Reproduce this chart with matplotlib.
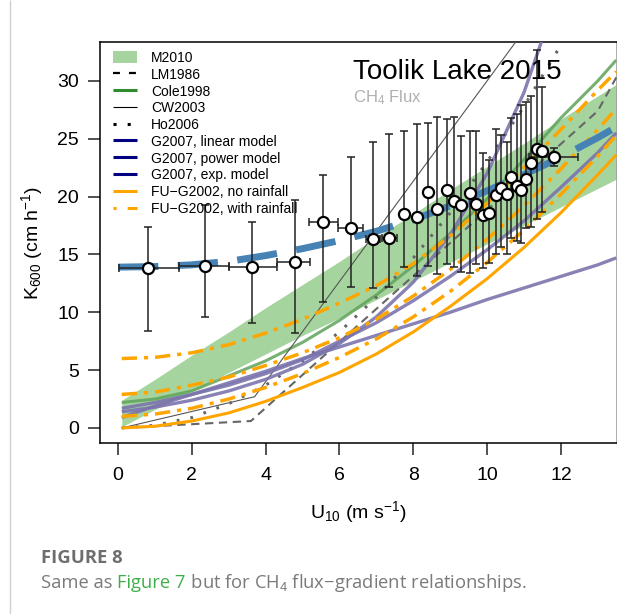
import matplotlib
matplotlib.use("Agg")
import matplotlib.pyplot as plt
from matplotlib.lines import Line2D
from matplotlib.patches import Patch

plt.rcParams["font.family"] = ["Liberation Sans", "DejaVu Sans"]
plt.rcParams["mathtext.fontset"] = "custom"
plt.rcParams["mathtext.rm"] = "Liberation Sans"
plt.rcParams["mathtext.it"] = "Liberation Sans:italic"
plt.rcParams["lines.scale_dashes"] = False
plt.rcParams["lines.dash_capstyle"] = "butt"
plt.rcParams["lines.solid_capstyle"] = "butt"

# binned observations (Toolik Lake 2015, CH4 flux)
u10 = [0.81, 2.36, 3.63, 4.80, 5.56, 6.30, 6.91, 7.35, 7.75, 8.10, 8.40, 8.65, 8.90, 9.10, 9.30,
       9.55, 9.70, 9.90, 10.06, 10.24, 10.38, 10.53, 10.65, 10.80, 10.92, 11.06, 11.20, 11.35, 11.50, 11.80]
k600 = [13.8, 14.0, 13.9, 14.35, 17.8, 17.3, 16.3, 16.4, 18.5, 18.2, 20.4, 18.9, 20.6, 19.6, 19.3,
        20.3, 19.4, 18.4, 18.6, 20.1, 20.7, 20.2, 21.7, 20.9, 20.6, 21.5, 22.9, 24.1, 23.9, 23.4]
k_lo = [8.4, 9.6, 9.1, 8.2, 10.9, 12.2, 12.1, 12.2, 13.9, 13.1, 14.0, 13.3, 14.2, 13.9, 13.5,
        13.4, 14.2, 13.8, 14.3, 15.0, 15.6, 15.0, 16.4, 16.2, 16.0, 17.3, 17.4, 18.1, 18.7, 22.6]
k_hi = [17.4, 19.3, 17.8, 19.7, 21.9, 23.4, 24.7, 25.4, 25.7, 26.3, 26.4, 26.9, 26.7, 26.9, 25.2,
        25.7, 25.7, 23.8, 23.2, 25.8, 25.3, 24.7, 26.8, 27.1, 27.9, 28.2, 28.7, 32.7, 29.5, 24.2]
# horizontal error bars only exist for the sparse low-wind bins and the last bin
ux_idx = [0, 1, 2, 3, 4, 5, 6, 7, 29]
ux_lo = [0.03, 1.65, 3.00, 4.30, 5.18, 5.96, 6.72, 7.15, 11.13]
ux_hi = [1.65, 3.00, 4.30, 5.20, 5.96, 6.63, 7.10, 7.56, 12.47]

# fitted relationship (thick dashed blue)
fit_u = [0, 1, 2, 3, 4, 5, 6, 7, 8, 9, 10, 11, 12, 13, 13.5]
fit_k = [13.9, 13.95, 14.1, 14.4, 14.9, 15.5, 16.2, 17.0, 18.0, 19.2, 20.5, 21.9, 23.4, 25.1, 26.0]

# literature models, read on a common wind grid
u_grid = [0.1, 1, 2, 3, 4, 5, 6, 7, 8, 9, 10, 11, 12, 13, 13.5]
m2010_lo = [0.1, 1.6, 3.2, 4.8, 6.4, 8.0, 9.5, 11.1, 12.7, 14.3, 15.9, 17.5, 19.1, 20.7, 21.5]
m2010_hi = [2.4, 4.2, 6.3, 8.3, 10.4, 12.4, 14.4, 16.5, 18.5, 20.6, 22.6, 24.6, 26.7, 28.7, 29.7]
cole1998 = [2.2, 2.5, 3.2, 4.5, 5.8, 7.4, 9.3, 11.5, 14.0, 16.8, 19.8, 23.2, 26.8, 30.0, 31.8]
ho2006 = [0.0, 0.23, 0.9, 2.1, 3.7, 5.8, 8.3, 11.3, 14.7, 18.6, 23.0, 27.8, 33.1, 38.9, 41.9]
g2007_lin = [0.9, 1.9, 2.9, 3.9, 4.9, 6.0, 7.0, 8.0, 9.0, 10.0, 11.1, 12.1, 13.1, 14.1, 14.7]
g2007_pow = [1.7, 2.2, 2.9, 3.7, 4.7, 5.9, 7.5, 9.1, 11.0, 13.1, 15.4, 17.9, 20.8, 23.8, 25.5]
g2007_exp = [1.4, 1.8, 2.4, 3.2, 4.2, 5.5, 7.3, 9.6, 12.6, 16.7, 22.0, 29.0, 38.3, 50.5, 58.0]
fu_norain = [0.0, 0.15, 0.6, 1.3, 2.3, 3.5, 4.8, 6.4, 8.3, 10.5, 12.9, 15.6, 18.6, 21.9, 23.6]
fu_rain_a = [6.0, 6.1, 6.5, 7.2, 8.2, 9.4, 10.8, 12.3, 14.2, 16.6, 19.4, 22.5, 25.8, 29.2, 30.8]
fu_rain_b = [2.9, 3.1, 3.7, 4.4, 5.4, 6.5, 7.8, 9.4, 11.4, 13.7, 16.3, 19.2, 22.4, 25.8, 27.6]
fu_rain_c = [1.0, 1.2, 1.7, 2.5, 3.5, 4.7, 6.1, 7.7, 9.6, 11.8, 14.3, 17.1, 20.2, 23.5, 25.3]

# piecewise-linear models
lm_u = [0.1, 3.6, 13.0, 13.5]
lm_k = [0.0, 0.6, 27.4, 30.3]
cw_u = [0.1, 3.7, 11.5]
cw_k = [0.0, 2.7, 36.5]

band_col = "#a6d49e"
purple = "#7b74ad"
orange = "#ffa500"

fig = plt.figure(figsize=(6.17, 6.14), dpi=100)
ax = fig.add_axes([100 / 617, 1 - 443 / 614, 517 / 617, 401 / 614])

ax.fill_between(u_grid, m2010_lo, m2010_hi, color=band_col, lw=0, zorder=1)
ax.plot(u_grid, cole1998, color="#5fa35a", lw=2.2, alpha=0.85, zorder=2)
ax.plot(lm_u, lm_k, color="#666666", lw=1.5, dashes=(6, 4), zorder=3)
ax.plot(cw_u, cw_k, color="#555555", lw=0.8, zorder=3)
ax.plot(u_grid, ho2006, color="#666666", lw=2.2, dashes=(2, 8), zorder=3)
for g in (g2007_lin, g2007_pow, g2007_exp):
    ax.plot(u_grid, g, color=purple, lw=2.4, alpha=0.9, zorder=4)
ax.plot(u_grid, fu_norain, color=orange, lw=2.2, zorder=5)
ax.plot(u_grid, fu_rain_a, color=orange, lw=2.5, dashes=(11, 5, 3, 5), zorder=5)
ax.plot(u_grid, fu_rain_b, color=orange, lw=2.5, dashes=(11, 5, 3, 5), zorder=5)
ax.plot(u_grid, fu_rain_c, color=orange, lw=2.5, dashes=(11, 5, 3, 5), zorder=5)

ax.plot(fit_u, fit_k, color="#4682b4", lw=5, dashes=(29, 14), zorder=6)

yerr = [[k - lo for k, lo in zip(k600, k_lo)], [hi - k for k, hi in zip(k600, k_hi)]]
ax.errorbar(u10, k600, yerr=yerr, fmt="none", ecolor="#222222", elinewidth=1.1,
            capsize=3, capthick=1.1, zorder=7)
xs = [u10[i] for i in ux_idx]
ys = [k600[i] for i in ux_idx]
xerr = [[x - lo for x, lo in zip(xs, ux_lo)], [hi - x for x, hi in zip(xs, ux_hi)]]
ax.errorbar(xs, ys, xerr=xerr, fmt="none", ecolor="#222222", elinewidth=1.1,
            capsize=3, capthick=1.1, zorder=7)
ax.plot(u10, k600, "o", ms=8, mfc="white", mec="black", mew=1.6, zorder=8)

ax.set_xlim(-0.49, 13.52)
ax.set_ylim(-1.3, 33.36)
ax.set_xticks(range(0, 13, 2))
ax.set_yticks(range(0, 31, 5))
ax.tick_params(axis="both", length=8.5, width=1.1, labelsize=14, color="#222222")
ax.tick_params(axis="x", pad=9)
ax.tick_params(axis="y", pad=6.5)
for s in ax.spines.values():
    s.set_linewidth(1.1)
ax.spines["right"].set_color("#999999")

ax.set_xlabel(r"$\mathregular{U_{10}}$ (m s$\mathregular{^{-1}}$)", fontsize=14)
ax.set_ylabel(r"$\mathregular{K_{600}}$ (cm h$\mathregular{^{-1}}$)", fontsize=14)
ax.xaxis.set_label_coords(0.5, -(512 - 443) / 401)
ax.xaxis.label.set_va("center")
ax.yaxis.set_label_coords(-(100 - 32) / 517, 0.5)
ax.yaxis.label.set_va("center")

ax.text((353 - 100) / 517, 1 - (72 - 42) / 401, "Toolik Lake 2015", transform=ax.transAxes,
        fontsize=20, va="center", ha="left", zorder=9)
ax.text((353 - 100) / 517, 1 - (98 - 42) / 401, r"CH$\mathregular{_4}$ Flux", transform=ax.transAxes,
        fontsize=12, va="center", ha="left", color="#b0b0b0", zorder=9)

handles = [
    Patch(facecolor=band_col, edgecolor="none"),
    Line2D([], [], color="black", lw=1.6, dashes=(5, 6.5)),
    Line2D([], [], color="#2e8b2e", lw=2.2),
    Line2D([], [], color="black", lw=0.8),
    Line2D([], [], color="black", lw=2.2, dashes=(2.2, 8)),
    Line2D([], [], color="#000080", lw=2.2),
    Line2D([], [], color="#000080", lw=2.2),
    Line2D([], [], color="#000080", lw=2.2),
    Line2D([], [], color=orange, lw=2.2),
    Line2D([], [], color=orange, lw=2.2, dashes=(2.2, 8, 10, 100)),
]
labels = ["M2010", "LM1986", "Cole1998", "CW2003", "Ho2006", "G2007, linear model",
          "G2007, power model", "G2007, exp. model", "FU\u2212G2002, no rainfall",
          "FU\u2212G2002, with rainfall"]
leg = ax.legend(handles, labels, loc="upper left", bbox_to_anchor=(13 / 517, 1 - 9 / 401),
                frameon=False, fontsize=10, borderpad=0, borderaxespad=0, labelspacing=0.2,
                handlelength=1.75, handleheight=1.0, handletextpad=1.0)
leg.set_zorder(9)

# page furniture
fig.add_artist(Line2D([10 / 617, 10 / 617], [0, 1], color="#d0d0d0", lw=1, transform=fig.transFigure))
fig.text(41 / 617, 1 - 558 / 614, "FIGURE 8", fontsize=13.3, fontweight="bold", color="#6e6e6e",
         family=["Open Sans", "DejaVu Sans"], va="center", ha="left")

renderer = fig.canvas.get_renderer()
cap_y = 1 - 583 / 614
x0 = 41 / 617
pieces = [("Same as ", "#7a7a7a"), ("Figure 7", "#3fae49"),
          (" but for CH$_4$ flux\u2212gradient relationships.", "#7a7a7a")]
for txt, col in pieces:
    t = fig.text(x0, cap_y, txt, fontsize=13.2, color=col, family=["Open Sans", "DejaVu Sans"],
                 va="center", ha="left")
    bb = t.get_window_extent(renderer=renderer)
    x0 += bb.width / fig.bbox.width

fig.savefig("out.png", dpi=100)
